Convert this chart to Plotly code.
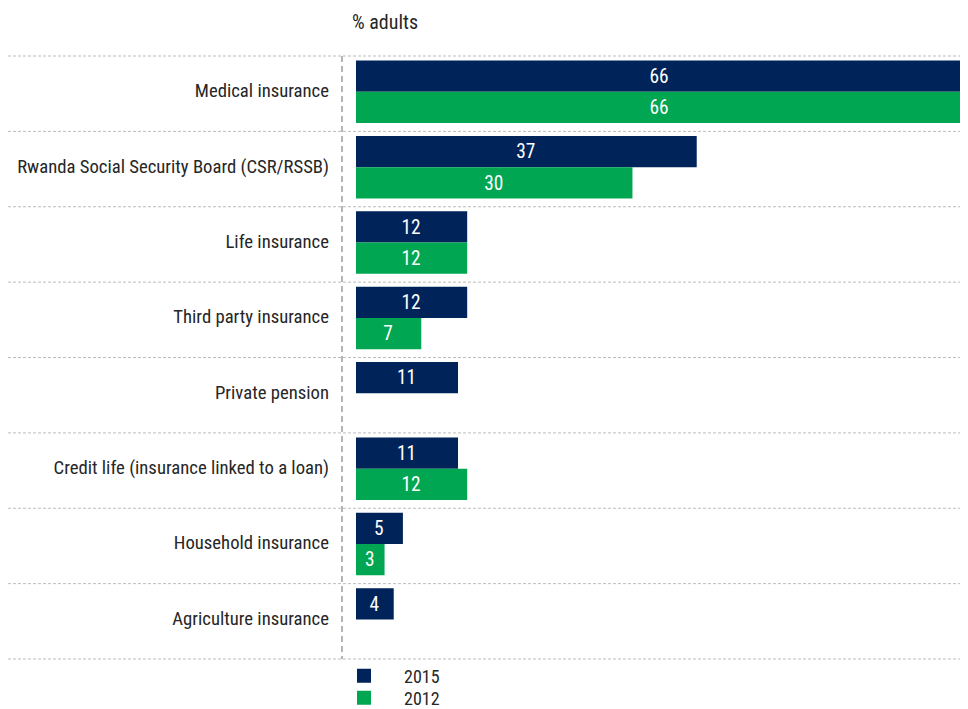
import plotly.graph_objects as go

categories = [
    "Medical insurance",
    "Rwanda Social Security Board (CSR/RSSB)",
    "Life insurance",
    "Third party insurance",
    "Private pension",
    "Credit life (insurance linked to a loan)",
    "Household insurance",
    "Agriculture insurance",
]
values_2015 = [66, 37, 12, 12, 11, 11, 5, 4]
values_2012 = [66, 30, 12, 7, None, 12, 3, None]

NAVY = "#00245a"
GREEN = "#00a651"
FONT = "Liberation Sans Narrow, Roboto Condensed, Arial Narrow, sans-serif"
TEXT = "#262626"

# page body has an 8px margin: work in figure coords = reference - 8
W, H = 960, 701
L, R, T, B = 348, 0, 47, 49
plot_w = W - L - R
plot_h = H - T - B
slot_px = plot_h / 8
px_per_unit = 606 / 66
xmax = plot_w / px_per_unit

# bars get a 1px outline (2px line) in their own colour, so shrink width accordingly
LW = 2
BAR_W = 0.415 - LW / slot_px
OFFSETS = {"2015": -0.44 + (LW / 2) / slot_px, "2012": -0.025 + (LW / 2) / slot_px}

fig = go.Figure()
for name, vals, col, lg in [("2015", values_2015, NAVY, "legend"),
                            ("2012", values_2012, GREEN, "legend2")]:
    fig.add_trace(go.Bar(
        y=categories, x=vals, name=name, orientation="h", legend=lg,
        width=BAR_W, offset=OFFSETS[name],
        marker=dict(color=col, line=dict(width=LW, color=col)),
        text=[("" if v is None else str(v)) for v in vals],
        textposition="inside", insidetextanchor="middle", textangle=0,
        textfont=dict(color="white", size=20, family=FONT),
        hoverinfo="x+y",
    ))

shapes = []
n = len(categories)
for i in range(n + 1):
    y = i - 0.5
    shapes.append(dict(type="line", xref="paper", yref="y",
                       x0=-L / plot_w, x1=1, y0=y, y1=y,
                       line=dict(color="#bdbdbd", width=1, dash="3px,2px"), layer="below"))
shapes.append(dict(type="line", xref="paper", yref="y",
                   x0=-14 / plot_w, x1=-14 / plot_w, y0=-0.5, y1=n - 0.5,
                   line=dict(color="#b5b5b5", width=2, dash="6px,4px"), layer="below"))

leg_common = dict(orientation="v", xref="container", yref="container", xanchor="left",
                  yanchor="middle", font=dict(size=18, color=TEXT, family=FONT),
                  bgcolor="rgba(0,0,0,0)", itemwidth=70)

fig.update_layout(
    width=W, height=H,
    margin=dict(l=L, r=R, t=T, b=B, autoexpand=False),
    paper_bgcolor="white", plot_bgcolor="white",
    barmode="overlay",
    font=dict(family=FONT, color=TEXT, size=19),
    title=dict(text="% adults", xref="container", x=344 / W, xanchor="left",
               yref="container", y=1 - 14 / H, yanchor="middle",
               font=dict(size=20, color=TEXT, family=FONT)),
    xaxis=dict(range=[0, xmax], visible=False, fixedrange=True),
    yaxis=dict(autorange="reversed", showgrid=False, zeroline=False, showline=False,
               ticks="", ticklabelstandoff=26, ticklabelshift=3,
               tickfont=dict(size=18.7, color=TEXT, family=FONT)),
    legend=dict(**leg_common, x=316 / W, y=1 - 668 / H),
    legend2=dict(**leg_common, x=316 / W, y=1 - 690 / H),
    shapes=shapes,
    showlegend=True,
)

fig.write_html("out.html")
